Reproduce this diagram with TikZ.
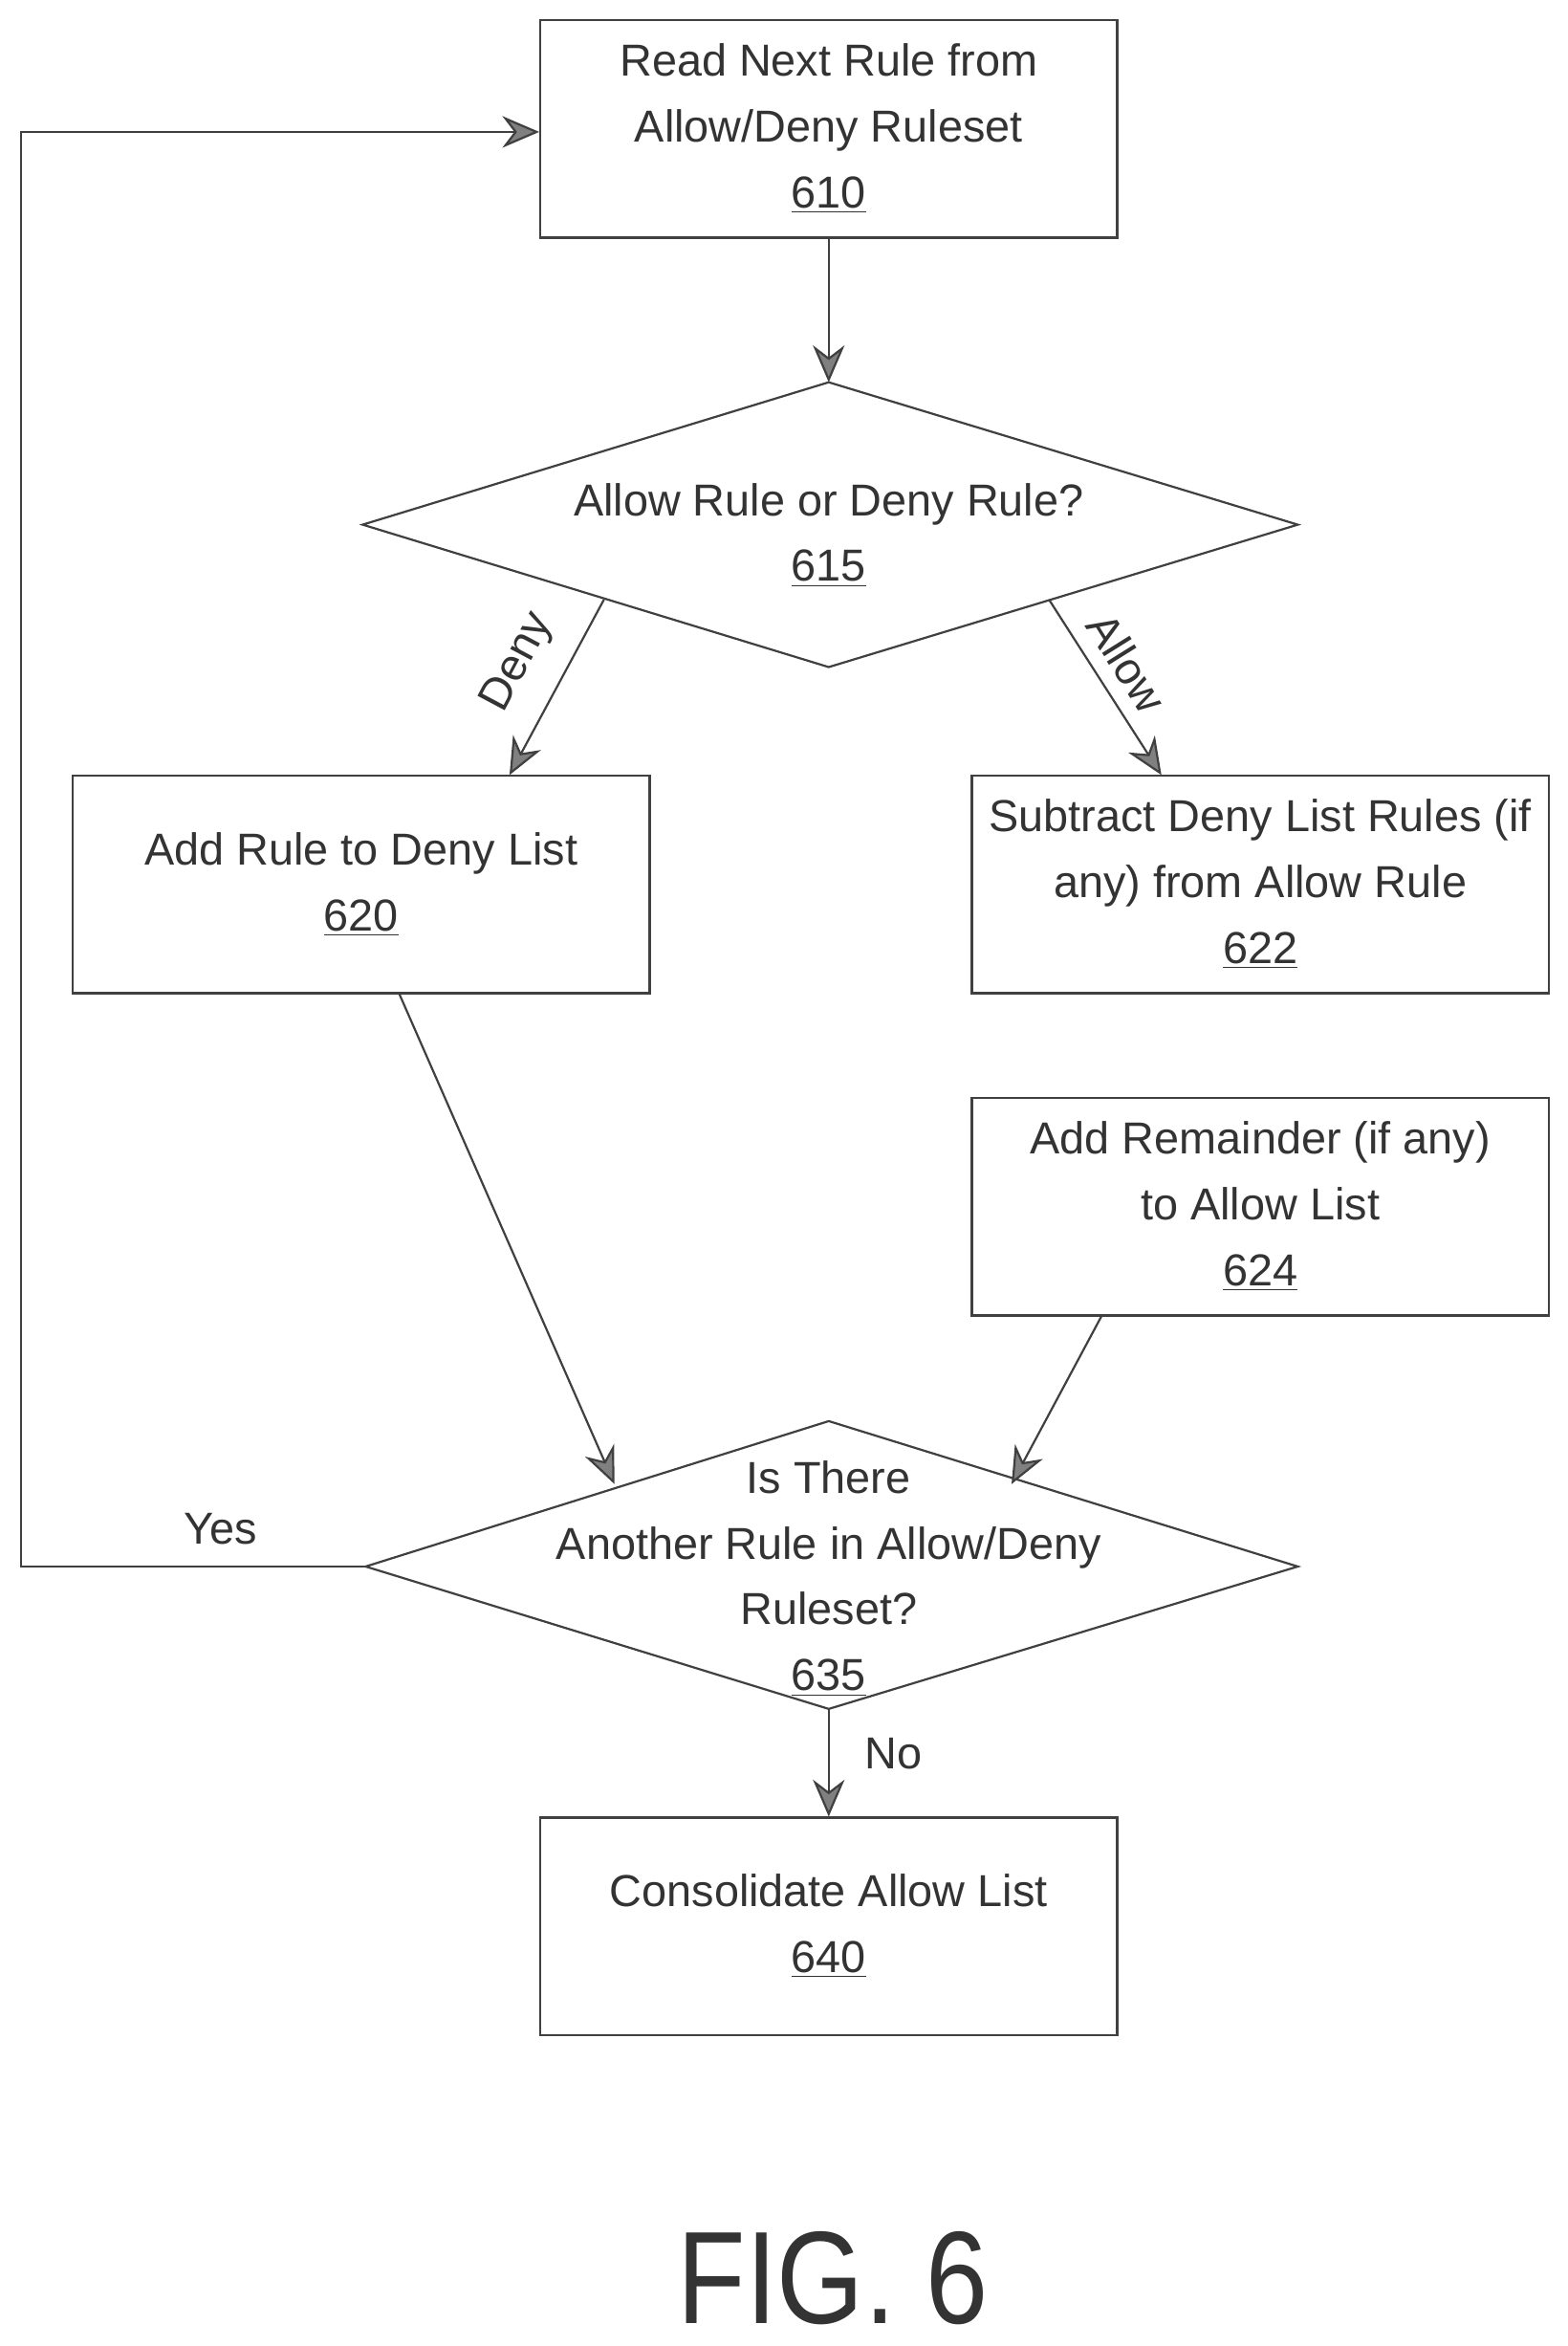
\documentclass[tikz,border=0pt]{standalone}
\usepackage{fontspec}
\setmainfont{Liberation Sans}
\usetikzlibrary{arrows.meta}

\begin{document}
\begin{tikzpicture}[x=0.02cm, y=-0.02cm,
        every node/.style={font=\fontsize{17}{25}\selectfont, text=black!80},
        schritt/.style={draw=black!75, thick, minimum width=7.7cm, minimum height=2.9cm, align=center, inner sep=2pt},
        choice/.style={align=center, inner sep=0pt},
        rand/.style={draw=black!75, thick},
        flow/.style={draw=black!75, thick, -{Stealth[length=14pt, width=12pt, fill=black!50]}}]
    \useasboundingbox (0,0) rectangle (1046,1565);

    % steps
    \node[schritt] (lesen) at (553,86) {Read Next Rule from\\Allow/Deny Ruleset\\\underline{610}};
    \node[choice] (art) at (553,357) {Allow Rule or Deny Rule?\\\underline{615}};
    \draw[rand] (242,350) -- (553,255) -- (866,350) -- (553,445) -- cycle;
    \node[schritt] (verbot) at (241,590) {Add Rule to Deny List\\\underline{620}};
    \node[schritt] (abzug) at (841,590) {Subtract Deny List Rules (if\\any) from Allow Rule\\\underline{622}};
    \node[schritt] (rest) at (841,805) {Add Remainder (if any)\\to Allow List\\\underline{624}};
    \node[choice] (weiter) at (553,1053) {Is There\\Another Rule in Allow/Deny\\Ruleset?\\\underline{635}};
    \draw[rand] (244,1045) -- (553,948) -- (866,1045) -- (553,1140) -- cycle;
    \node[schritt] (ende) at (553,1285) {Consolidate Allow List\\\underline{640}};

    % connectors
    \coordinate (denyA) at (403,400);
    \coordinate (allowA) at (700,400);
    \coordinate (verbotU) at (266,662);
    \coordinate (restU) at (735,878);
    \coordinate (weiterL) at (244,1045);
    \coordinate (weiterU) at (553,1140);
    \coordinate (linksU) at (14,1045);
    \coordinate (linksO) at (14,88);
    \draw[flow] (lesen) -- (553,255);
    \draw[flow] (denyA) -- (340,517);
    \draw[flow] (allowA) -- (775,517);
    \draw[flow] (verbotU) -- (410,990);
    \draw[flow] (restU) -- (675,990);
    \draw[flow] (weiterL) -- (linksU) -- (linksO) -- (lesen.west |- linksO);
    \draw[flow] (weiterU) -- (ende);

    % labels
    \node[rotate=62] (deny) at (346,442) {Deny};
    \node[rotate=-58] (allow) at (752,442) {Allow};
    \node (ja) at (147,1020) {Yes};
    \node (nein) at (596,1170) {No};
    \node[font=\fontsize{50}{56}\selectfont, xscale=0.85] (fig) at (556,1520) {FIG. 6};
\end{tikzpicture}
\end{document}
